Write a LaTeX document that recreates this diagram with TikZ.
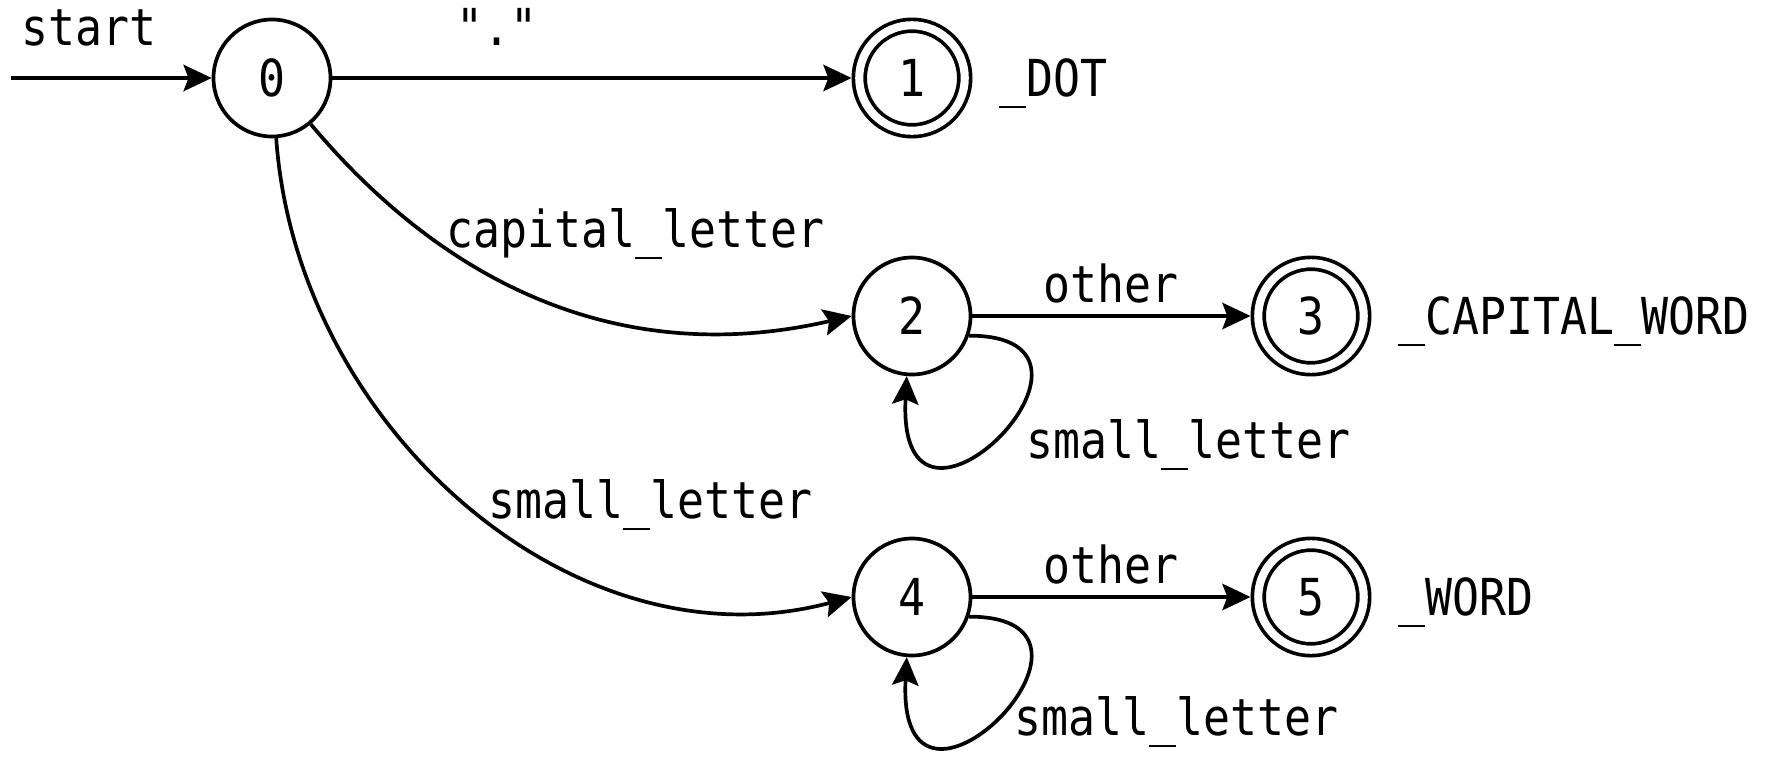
\documentclass[tikz,border=0pt]{standalone}
\usepackage{fontspec}
\setmainfont{DejaVu Sans Mono}[FakeStretch=0.88,Ligatures=TeXOff]
\usetikzlibrary{arrows.meta,positioning}

\def\lw{1.05pt}
\tikzstyle{st}=[circle,draw,line width=\lw,inner sep=0pt,minimum size=1.17cm]
\tikzstyle{acc}=[st,double,double distance=2.3pt,minimum size=1.055cm,outer sep=2.2pt]
\tikzstyle{tr}=[-{Stealth[length=8pt,width=7.5pt,inset=1.4pt]},line width=\lw]
\tikzstyle{lab}=[inner sep=0pt,text depth=0pt]
\tikzstyle{tok}=[lab,anchor=west]

\begin{document}
\begin{tikzpicture}[font=\fontsize{14.5}{17}\selectfont]
\useasboundingbox (0,0) rectangle (17.69,-7.56);
% states
\node[st](q0) at (2.72,-0.78){0};
\node[acc](q1) at (9.12,-0.78){1};
\node[st](q2) at (9.12,-3.16){2};
\node[acc](q3) at (13.11,-3.16){3};
\node[st](q4) at (9.12,-5.97){4};
\node[acc](q5) at (13.11,-5.97){5};
\coordinate (init) at (0.11,-0.78);
% tokens
\node[tok,right=0.26cm of q1]{\_DOT};
\node[tok,right=0.26cm of q3]{\_CAPITAL\_WORD};
\node[tok,right=0.26cm of q5]{\_WORD};
% transitions
\draw(init)edge[tr] node[lab,pos=0.39,above=0.31cm]{start}(q0);
\draw(q0)edge[tr] node[lab,pos=0.317,above=0.31cm]{"."}(q1);
\draw(q0)edge[tr,out=-50,in=193] node[lab,pos=0.29,anchor=base west]{capital\_letter}(q2.west);
\draw(q0)edge[tr,out=-86,in=195] node[lab,pos=0.53,anchor=base west]{small\_letter}(q4.west);
\draw(q2)edge[tr] node[lab,above=0.12cm]{other}(q3);
\draw(q4)edge[tr] node[lab,above=0.12cm]{other}(q5);
\draw(q2.-19)edge[tr,out=0,in=-93,out distance=1.75cm,in distance=2.1cm] node[lab,pos=0.52,right=0.3cm]{small\_letter}(q2.-95);
\draw(q4.-19)edge[tr,out=0,in=-93,out distance=1.75cm,in distance=2.1cm] node[lab,pos=0.5,right=0.13cm]{small\_letter}(q4.-95);
\end{tikzpicture}
\end{document}
